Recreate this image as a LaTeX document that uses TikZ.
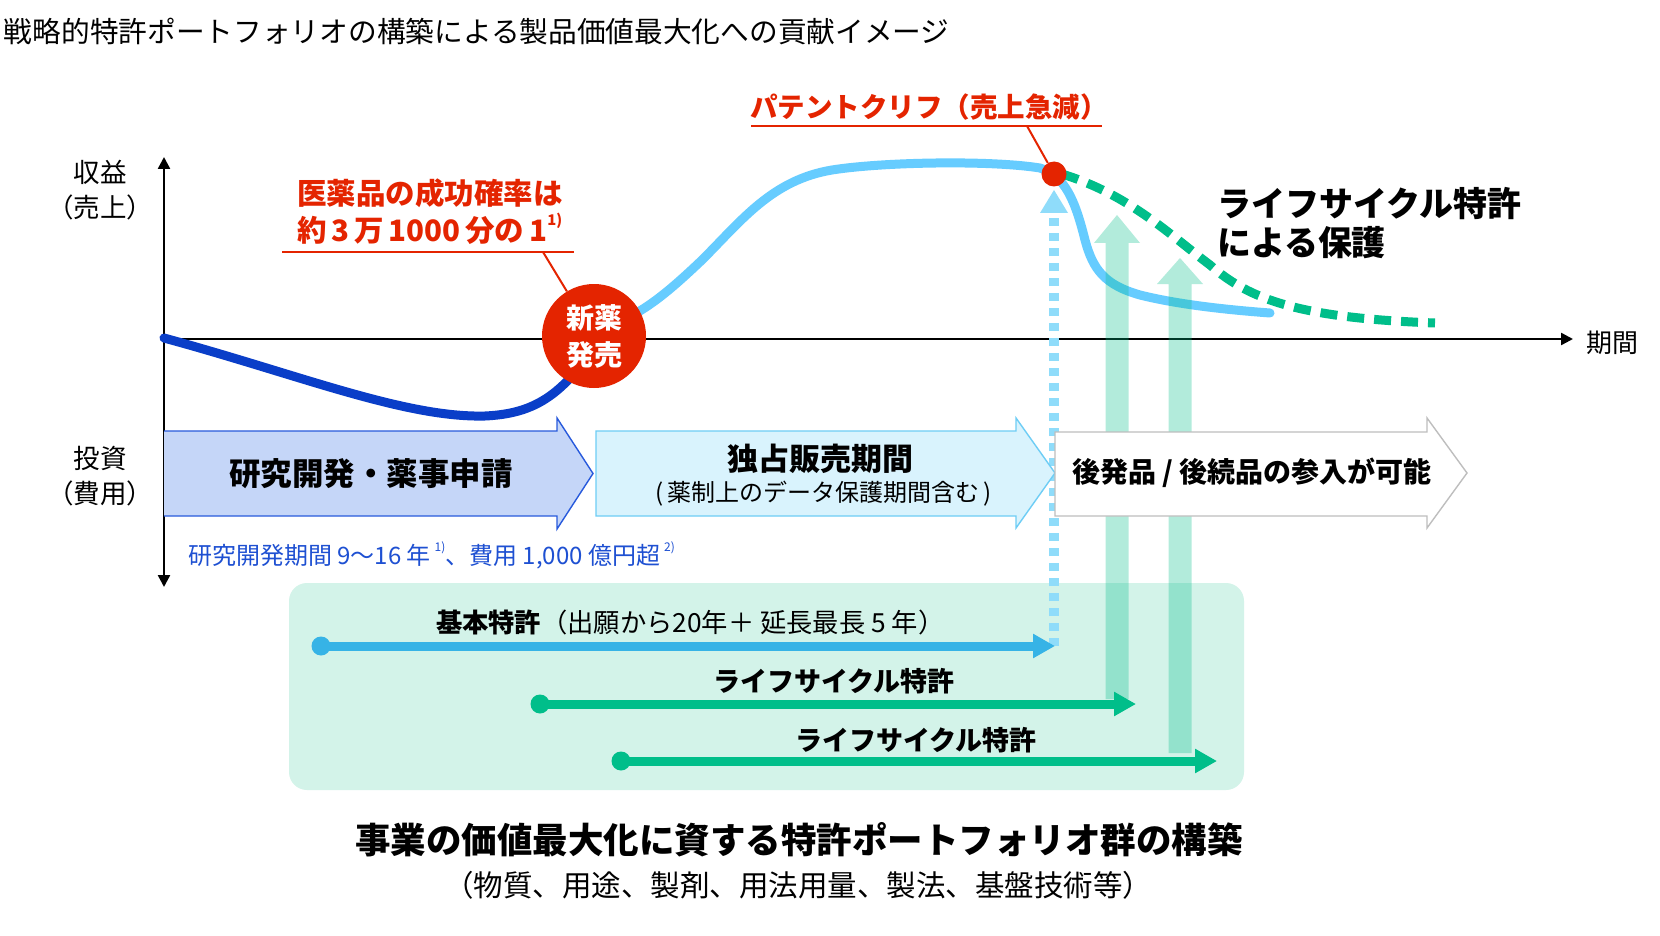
\documentclass[tikz,border=0pt]{standalone}
\usepackage{fontspec}
\setmainfont{Noto Sans CJK JP}
\usetikzlibrary{arrows.meta}
\definecolor{redc}{RGB}{228,36,0}
\definecolor{darkblue}{RGB}{10,62,200}
\definecolor{skyline}{RGB}{102,204,255}
\definecolor{greenc}{RGB}{0,190,138}
\definecolor{basicblue}{RGB}{54,179,230}
\definecolor{dotblue}{RGB}{143,220,250}
\definecolor{boxgreen}{RGB}{211,243,233}
\definecolor{rdfill}{RGB}{197,214,248}
\definecolor{rdline}{RGB}{40,90,220}
\definecolor{exfill}{RGB}{217,243,253}
\definecolor{exline}{RGB}{110,205,245}
\definecolor{genline}{RGB}{190,190,190}
\definecolor{noteblue}{RGB}{30,80,210}
\newcommand{\fs}[2]{\fontsize{#1}{#2}\selectfont}
\newcommand{\supnote}[1]{\raisebox{0.55em}{\scalebox{0.5}{#1}}}
\begin{document}
\begin{tikzpicture}[x=1pt,y=-1pt,
  txt/.style={inner sep=0pt, outer sep=0pt},
  axisline/.style={line width=2.5pt, black},
  curveline/.style={line width=9pt, line cap=round},
  redlink/.style={redc, line width=2pt},
  patentarrow/.style={line width=9pt, -{Triangle[length=22pt,width=23pt]}},
  startdot/.style={circle, inner sep=0pt, minimum size=19pt},
  phasebox/.style={line width=1.4pt},
  uparrow/.style={greenc, opacity=0.3}
]
\useasboundingbox (0,0) rectangle (1660,936);
\fill[white] (0,0) rectangle (1660,936);

% background box for patents
\fill[boxgreen, rounded corners=18pt] (289,583) rectangle (1244,790);

% axes
\coordinate (ytop) at (164,157);
\coordinate (ybot) at (164,587);
\coordinate (xorig) at (164,339);
\coordinate (xend) at (1573,339);
\draw[axisline, {Triangle[length=12pt,width=12pt]}-{Triangle[length=12pt,width=12pt]}] (ybot) -- (ytop);
\draw[axisline, -{Triangle[length=12pt,width=12pt]}] (xorig) -- (xend);

% curves
\draw[curveline, darkblue] (164,338) .. controls (300,375) and (405,418) .. (485,416)
   .. controls (528,414) and (555,400) .. (585,360);
\draw[curveline, skyline] (600,330) .. controls (640,315) and (662,298) .. (702,260)
   .. controls (742,220) and (772,180) .. (832,170)
   .. controls (882,162) and (990,160) .. (1040,168)
   .. controls (1065,176) and (1075,200) .. (1085,240)
   .. controls (1093,270) and (1105,285) .. (1140,295)
   .. controls (1180,305) and (1230,310) .. (1270,313);
\draw[line width=9pt, greenc, dash pattern=on 17pt off 10pt] (1062,174) .. controls (1130,195) and (1170,235) .. (1210,265)
   .. controls (1250,300) and (1300,318) .. (1435,323);

% annotation connectors
\coordinate (u1a) at (282,252);
\coordinate (u1b) at (574,252);
\coordinate (u1c) at (543,252);
\coordinate (u2a) at (751,126);
\coordinate (u2b) at (1102,126);
\coordinate (u2c) at (1027,126);
\node[circle, fill=redc, inner sep=0pt, minimum size=104pt] (launch) at (594,336) {};
\node[circle, fill=redc, inner sep=0pt, minimum size=25pt] (cliff) at (1054,174) {};
\draw[redlink] (u1a) -- (u1b);
\draw[redlink] (u1c) -- (launch);
\draw[redlink] (u2a) -- (u2b);
\draw[redlink] (u2c) -- (cliff);

% dotted vertical arrow from basic patent end
\coordinate (bpe) at (1055,646);
\coordinate (dothead) at (1054,213);
\draw[dotblue, line width=10pt, dash pattern=on 8pt off 7pt] (1054,646) -- (dothead);
\fill[dotblue] (1040,213) -- (1054,190) -- (1068,213) -- cycle;

% translucent green upward arrows
\fill[uparrow] (1105.5,699) -- (1105.5,243) -- (1094,243) -- (1117,215) -- (1140,243) -- (1128.5,243) -- (1128.5,699) -- cycle;
\fill[uparrow] (1168.5,753) -- (1168.5,284) -- (1157,284) -- (1180,258) -- (1203,284) -- (1191.5,284) -- (1191.5,753) -- cycle;

% phase arrows
\fill[rdfill] (164,431) -- (557,431) -- (557,418) -- (593,473.5) -- (557,529) -- (557,516) -- (164,516) -- cycle;
\draw[phasebox, rdline] (164,431) -- (557,431) -- (557,418) -- (593,473.5) -- (557,529) -- (557,516) -- (164,516);
\draw[phasebox, exline, fill=exfill] (596,431) -- (1016,431) -- (1016,418) -- (1055,473) -- (1016,528) -- (1016,516) -- (596,516) -- cycle;
\draw[phasebox, genline, fill=white] (1055,432) -- (1427,432) -- (1427,418) -- (1467,473) -- (1427,528) -- (1427,516) -- (1055,516) -- cycle;

% patent arrows
\node[startdot, fill=basicblue] (bp0) at (321,646) {};
\draw[patentarrow, basicblue] (bp0.center) -- (bpe);
\coordinate (lc1e) at (1136,704);
\node[startdot, fill=greenc] (lc10) at (540,704) {};
\draw[patentarrow, greenc] (lc10.center) -- (lc1e);
\coordinate (lc2e) at (1217,761);
\node[startdot, fill=greenc] (lc20) at (621,761) {};
\draw[patentarrow, greenc] (lc20.center) -- (lc2e);

% texts
\node[txt, anchor=west, font=\fs{28.7}{34}] (title) at (4,32) {戦略的特許ポートフォリオの構築による製品価値最大化への貢献イメージ};
\node[txt, align=center, font=\fs{26.5}{35}] (rev) at (100,190) {収益\\（売上）};
\node[txt, align=center, font=\fs{26.5}{35}] (inv) at (100,476) {投資\\（費用）};
\node[txt, anchor=west, font=\fs{26}{30}] (period) at (1586,343) {期間};
\node[txt, anchor=west, align=left, text=redc, font=\bfseries\fs{29.5}{37}] (rate) at (297,212) {医薬品の成功確率は\\約\,3\,万\,1000\,分の\,1\supnote{1)}};
\node[txt, anchor=west, text=redc, font=\bfseries\fs{27.5}{34}] (cliftxt) at (750,107) {パテントクリフ（売上急減）};
\node[txt, align=center, text=white, font=\bfseries\fs{28}{37}] at (launch) {新薬\\発売};
\node[txt, anchor=west, align=left, font=\bfseries\fs{34}{39}] (lcp) at (1217,223) {ライフサイクル特許\\による保護};
\node[txt, font=\bfseries\fs{31.5}{36}] (rdtxt) at (371,474) {研究開発・薬事申請};
\node[txt, font=\bfseries\fs{31}{36}] (extxt) at (820,459) {独占販売期間};
\node[txt, font=\fs{24}{28}] (exsub) at (824,494) {(\,薬制上のデータ保護期間含む\,)};
\node[txt, font=\bfseries\fs{28}{34}] (gentxt) at (1252,473) {後発品 / 後続品の参入が可能};
\node[txt, anchor=west, text=noteblue, font=\fs{24}{28}] (note) at (188,555) {研究開発期間 9～16 年\,\supnote{1)}、費用 1,000 億円超\,\supnote{2)}};
\node[txt, anchor=west, font=\fs{26.3}{30}] (bptxt) at (436,622) {\textbf{基本特許}（出願から20年＋ 延長最長 5 年）};
\node[txt, font=\bfseries\fs{27}{32}] (lc1txt) at (834,681) {ライフサイクル特許};
\node[txt, font=\bfseries\fs{27}{32}] (lc2txt) at (916,740) {ライフサイクル特許};
\node[txt, font=\bfseries\fs{35.5}{42}] (goal) at (799,840) {事業の価値最大化に資する特許ポートフォリオ群の構築};
\node[txt, font=\fs{29.5}{35}] (goalsub) at (798,885) {（物質、用途、製剤、用法用量、製法、基盤技術等）};
\end{tikzpicture}
\end{document}
